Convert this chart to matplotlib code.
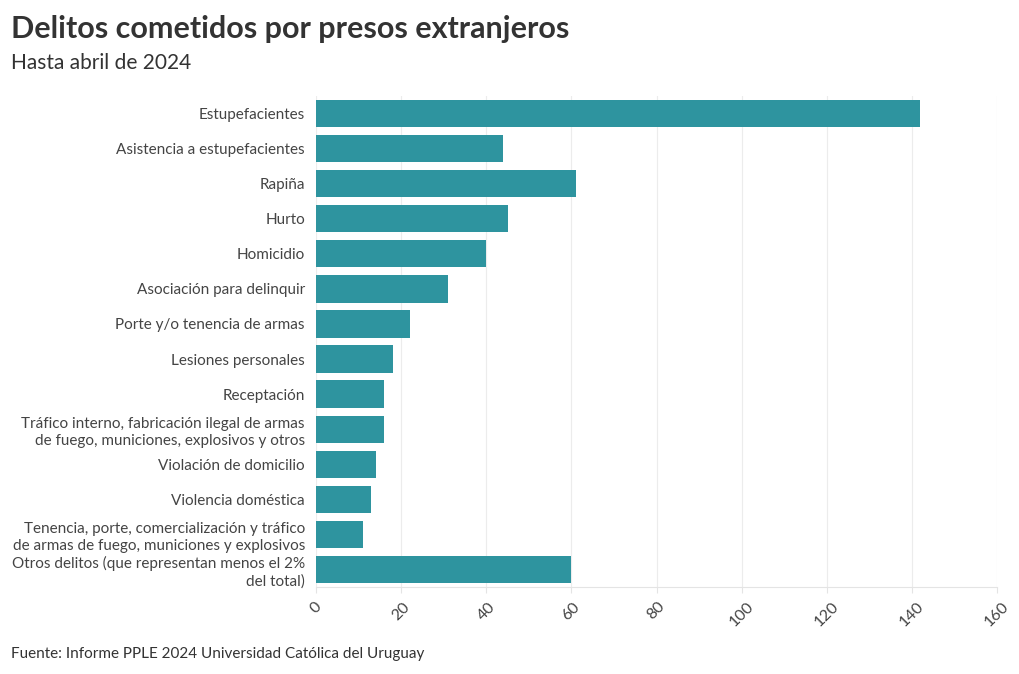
import matplotlib
matplotlib.use("Agg")
import matplotlib.pyplot as plt

categories = [
    "Estupefacientes",
    "Asistencia a estupefacientes",
    "Rapiña",
    "Hurto",
    "Homicidio",
    "Asociación para delinquir",
    "Porte y/o tenencia de armas",
    "Lesiones personales",
    "Receptación",
    "Tráfico interno, fabricación ilegal de armas\nde fuego, municiones, explosivos y otros",
    "Violación de domicilio",
    "Violencia doméstica",
    "Tenencia, porte, comercialización y tráfico\nde armas de fuego, municiones y explosivos",
    "Otros delitos (que representan menos el 2%\ndel total)",
]
values = [142, 44, 61, 45, 40, 31, 22, 18, 16, 16, 14, 13, 11, 60]
xticks = [0, 20, 40, 60, 80, 100, 120, 140, 160]

plt.rcParams['font.family'] = ['Lato', 'DejaVu Sans']

W, H = 1020, 674
fig = plt.figure(figsize=(W / 100, H / 100), dpi=100)
ax = fig.add_axes([316 / W, 1 - 587 / H, (997 - 316) / W, (587 - 96) / H])

ypos = list(range(len(categories)))
ax.barh(ypos, values, height=0.78, color="#2e949f", zorder=2)
ax.set_ylim(len(categories) - 0.5, -0.5)
ax.set_xlim(0, 160)
ax.set_xticks(xticks)
ax.set_xticklabels([str(t) for t in xticks], rotation=45, fontsize=11.5, color="#444444")
ax.set_yticks(ypos)
ax.set_yticklabels(categories, fontsize=11, color="#444444", linespacing=1.3)

ax.grid(axis="x", color="#ececec", linewidth=0.8, zorder=0)
for s in ["top", "right", "left"]:
    ax.spines[s].set_visible(False)
ax.spines["bottom"].set_color("#e4e4e4")
ax.spines["bottom"].set_linewidth(0.8)
ax.tick_params(axis="y", length=0, pad=8)
ax.tick_params(axis="x", length=4, color="#e4e4e4", pad=5)

fig.text(11 / W, 1 - 29 / H, "Delitos cometidos por presos extranjeros",
         fontsize=22, fontweight="bold", color="#333333", va="center", ha="left")
fig.text(11 / W, 1 - 63 / H, "Hasta abril de 2024",
         fontsize=15, color="#333333", va="center", ha="left")
fig.text(11 / W, 1 - 654 / H, "Fuente: Informe PPLE 2024 Universidad Católica del Uruguay",
         fontsize=11, color="#333333", va="center", ha="left")

fig.savefig("out.png", dpi=100)
